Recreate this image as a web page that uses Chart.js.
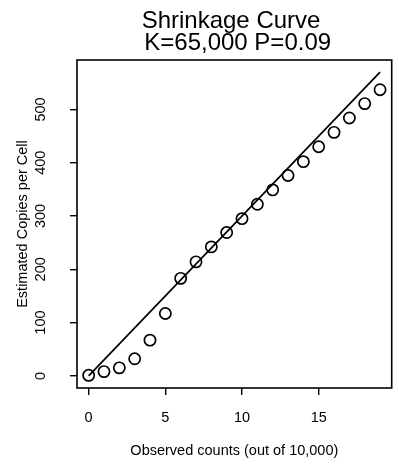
<!DOCTYPE html>
<html>
<head>
<meta charset="utf-8">
<script src="https://cdn.jsdelivr.net/npm/chart.js@4"></script>
<style>
  html, body { margin: 0; padding: 0; background: #fff; }
  canvas { display: block; }
</style>
</head>
<body>
<canvas id="shrinkChart" width="399" height="465"></canvas>
<script>
const observedCounts = [0, 1, 2, 3, 4, 5, 6, 7, 8, 9, 10, 11, 12, 13, 14, 15, 16, 17, 18, 19];
const estimatedCopies = [1, 8, 15, 32, 67, 117, 183, 214, 242, 269, 295, 322, 349, 376, 402, 430, 457, 484, 511, 537];

// straight reference line, end points
const curveX = [0, 19];
const curveY = [0, 570];

const xTicks = [0, 5, 10, 15];
const yTicks = [0, 100, 200, 300, 400, 500];

const titleLines = ["Shrinkage Curve ", " K=65,000 P=0.09"];
const xTitle = "Observed counts (out of 10,000)";
const yTitle = "Estimated Copies per Cell";

Chart.defaults.font.family = '"Liberation Sans", Arial, Helvetica, sans-serif';
Chart.defaults.color = "#000";

const ctx = document.getElementById("shrinkChart").getContext("2d");

// box round the plot region
const boxPlugin = {
  id: "plotBox",
  afterDraw(chart) {
    const a = chart.chartArea;
    const c = chart.ctx;
    c.save();
    c.strokeStyle = "#000";
    c.lineWidth = 1.6;
    c.strokeRect(a.left, a.top, a.right - a.left, a.bottom - a.top);
    c.restore();
  },
};

new Chart(ctx, {
  type: "scatter",
  data: {
    datasets: [
      {
        type: "line",
        label: "curve",
        data: curveX.map((x, i) => ({ x: x, y: curveY[i] })),
        borderColor: "#000",
        borderWidth: 1.7,
        pointRadius: 0,
        fill: false,
        tension: 0,
      },
      {
        label: "estimates",
        data: observedCounts.map((x, i) => ({ x: x, y: estimatedCopies[i] })),
        pointStyle: "circle",
        pointRadius: 5.6,
        pointBorderWidth: 1.7,
        borderColor: "#000",
        backgroundColor: "rgba(0,0,0,0)",
      },
    ],
  },
  options: {
    responsive: false,
    animation: false,
    layout: {
      padding: { left: 0, right: 4, top: 0, bottom: 0 },
    },
    plugins: {
      legend: { display: false },
      tooltip: { enabled: false },
      title: {
        display: true,
        text: titleLines,
        fullSize: false,
        color: "#000",
        font: { size: 24, weight: "normal", lineHeight: 0.9 },
        padding: { top: 11, bottom: 5.8 },
      },
    },
    scales: {
      x: {
        type: "linear",
        position: "bottom",
        min: -0.76,
        max: 19.76,
        afterBuildTicks: (scale) => {
          scale.ticks = xTicks.map((v) => ({ value: v }));
        },
        afterFit: (scale) => {
          scale.height = 77;
        },
        ticks: {
          font: { size: 14.5 },
          padding: 14.3,
          maxRotation: 0,
        },
        grid: {
          drawOnChartArea: false,
          drawTicks: true,
          tickLength: 7,
          color: "#000",
          lineWidth: 1.4,
        },
        border: { display: false },
        title: {
          display: true,
          text: xTitle,
          font: { size: 14.5 },
          padding: { top: 0, bottom: 5.3 },
        },
      },
      y: {
        type: "linear",
        position: "left",
        min: -22.8,
        max: 592.8,
        afterBuildTicks: (scale) => {
          scale.ticks = yTicks.map((v) => ({ value: v }));
        },
        afterFit: (scale) => {
          scale.width = 77;
        },
        ticks: {
          font: { size: 14.5 },
          padding: 17,
          minRotation: 90,
          maxRotation: 90,
          crossAlign: "center",
        },
        grid: {
          drawOnChartArea: false,
          drawTicks: true,
          tickLength: 7,
          color: "#000",
          lineWidth: 1.4,
        },
        border: { display: false },
        title: {
          display: true,
          text: yTitle,
          font: { size: 14.5 },
          padding: { top: 13.8, bottom: 0 },
        },
      },
    },
  },
  plugins: [boxPlugin],
});
</script>
</body>
</html>
